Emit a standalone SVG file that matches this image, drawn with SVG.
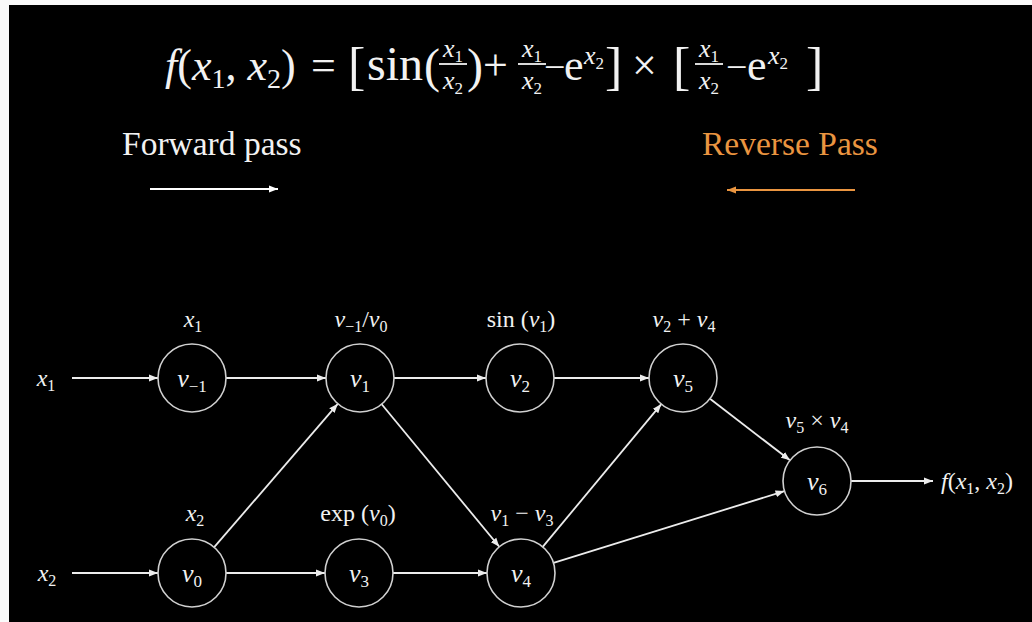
<svg xmlns="http://www.w3.org/2000/svg" width="1032" height="622" viewBox="0 0 1032 622">
<style>
.bg{fill:#000}
.t{font-family:"Liberation Serif",serif;fill:#f2f2f2}
.i{font-style:italic}
.node circle{fill:none;stroke:#d0d0d0;stroke-width:1.6}
.conn line{stroke:#ececec;stroke-width:1.8;marker-end:url(#ah)}
.lbl{font-family:"Liberation Serif",serif;fill:#f2f2f2;font-size:24px;text-anchor:middle}
.in{font-family:"Liberation Serif",serif;fill:#f2f2f2;font-size:26px;text-anchor:middle}
</style>
<defs>
<marker id="ah" markerUnits="userSpaceOnUse" markerWidth="10" markerHeight="8" refX="9" refY="4" orient="auto">
<path d="M0,0.5 L9,4 L0,7.5 Z" fill="#ececec"/>
</marker>
<marker id="ahw" markerUnits="userSpaceOnUse" markerWidth="10" markerHeight="8" refX="9" refY="4" orient="auto">
<path d="M0,0.5 L9,4 L0,7.5 Z" fill="#ffffff"/>
</marker>
<marker id="aho" markerUnits="userSpaceOnUse" markerWidth="10" markerHeight="8" refX="9" refY="4" orient="auto">
<path d="M0,0.5 L9,4 L0,7.5 Z" fill="#ea9540"/>
</marker>
</defs>
<rect width="1032" height="622" fill="#fafafa"/>
<rect class="bg" x="9" y="5" width="1023" height="617"/>

<g id="formula" class="t">
<text x="165" y="80" font-size="44"><tspan class="i">f</tspan>(<tspan class="i">x</tspan><tspan font-size="28" dy="8">1</tspan><tspan dy="-8">, </tspan><tspan class="i">x</tspan><tspan font-size="28" dy="8">2</tspan><tspan dy="-8">)</tspan></text>
<text x="311" y="80" font-size="44">=</text>
<text x="348" y="84" font-size="52">[</text>
<text x="367" y="80" font-size="48">sin</text>
<text x="424" y="82" font-size="48">(</text>
<text x="453" y="57" font-size="26" text-anchor="middle"><tspan class="i">x</tspan><tspan font-size="17" dy="5">1</tspan></text>
<line x1="439" y1="64" x2="467" y2="64" stroke="#f2f2f2" stroke-width="1.8"/>
<text x="453" y="89" font-size="26" text-anchor="middle"><tspan class="i">x</tspan><tspan font-size="17" dy="5">2</tspan></text>
<text x="467" y="82" font-size="48">)</text>
<text x="483" y="80" font-size="44">+</text>
<text x="532" y="57" font-size="26" text-anchor="middle"><tspan class="i">x</tspan><tspan font-size="17" dy="5">1</tspan></text>
<line x1="518" y1="64" x2="546" y2="64" stroke="#f2f2f2" stroke-width="1.8"/>
<text x="532" y="89" font-size="26" text-anchor="middle"><tspan class="i">x</tspan><tspan font-size="17" dy="5">2</tspan></text>
<text x="544" y="80" font-size="38">−</text>
<text x="564" y="80" font-size="44">e</text>
<text x="584" y="64" font-size="26"><tspan class="i">x</tspan><tspan font-size="17" dy="5">2</tspan></text>
<text x="605" y="84" font-size="52">]</text>
<text x="632" y="80" font-size="44">×</text>
<text x="673" y="84" font-size="52">[</text>
<text x="709" y="57" font-size="26" text-anchor="middle"><tspan class="i">x</tspan><tspan font-size="17" dy="5">1</tspan></text>
<line x1="695" y1="64" x2="723" y2="64" stroke="#f2f2f2" stroke-width="1.8"/>
<text x="709" y="89" font-size="26" text-anchor="middle"><tspan class="i">x</tspan><tspan font-size="17" dy="5">2</tspan></text>
<text x="726" y="80" font-size="38">−</text>
<text x="747" y="80" font-size="44">e</text>
<text x="768" y="64" font-size="26"><tspan class="i">x</tspan><tspan font-size="17" dy="5">2</tspan></text>
<text x="806" y="84" font-size="52">]</text>
</g>

<g id="legend-forward">
<text class="t" x="122" y="155" font-size="33.5">Forward pass</text>
<line x1="150" y1="189" x2="278" y2="189" stroke="#fff" stroke-width="2" marker-end="url(#ahw)"/>
</g>
<g id="legend-reverse">
<text x="702" y="155" font-size="33.5" font-family="Liberation Serif, serif" fill="#ea9540">Reverse Pass</text>
<line x1="855" y1="190" x2="727" y2="190" stroke="#ea9540" stroke-width="2" marker-end="url(#aho)"/>
</g>

<g id="connectors" class="conn">
<line x1="72" y1="378" x2="158" y2="378"/>
<line x1="226" y1="378" x2="326" y2="378"/>
<line x1="394" y1="378" x2="486" y2="378"/>
<line x1="554" y1="378" x2="649" y2="378"/>
<line x1="214.2" y1="547.2" x2="337.8" y2="403.8"/>
<line x1="381.7" y1="404.2" x2="499.3" y2="546.8"/>
<line x1="542.7" y1="546.9" x2="661.3" y2="404.1"/>
<line x1="710" y1="398.7" x2="790" y2="460.3"/>
<line x1="553.5" y1="562.9" x2="784.5" y2="491.1"/>
<line x1="851" y1="481" x2="933" y2="481"/>
<line x1="72" y1="573" x2="158" y2="573"/>
<line x1="226" y1="573" x2="325" y2="573"/>
<line x1="393" y1="573" x2="487" y2="573"/>
</g>

<g id="input-x1"><text class="lbl" x="46" y="386"><tspan class="i">x</tspan><tspan font-size="16" dy="5">1</tspan></text></g>
<g id="input-x2"><text class="lbl" x="47" y="581"><tspan class="i">x</tspan><tspan font-size="16" dy="5">2</tspan></text></g>
<g id="output-f"><text class="lbl" x="977" y="489"><tspan class="i">f</tspan>(<tspan class="i">x</tspan><tspan font-size="16" dy="5">1</tspan><tspan dy="-5">, </tspan><tspan class="i">x</tspan><tspan font-size="16" dy="5">2</tspan><tspan dy="-5">)</tspan></text></g>

<g id="node-vm1" class="node">
<circle cx="192" cy="378" r="34"/>
<text class="lbl" x="193" y="327"><tspan class="i">x</tspan><tspan font-size="16" dy="5">1</tspan></text>
<text class="in" x="192" y="387"><tspan class="i">v</tspan><tspan font-size="17" dy="5">−1</tspan></text>
</g>
<g id="node-v1" class="node">
<circle cx="360" cy="378" r="34"/>
<text class="lbl" x="361" y="327"><tspan class="i">v</tspan><tspan font-size="16" dy="5">−1</tspan><tspan dy="-5">/</tspan><tspan class="i">v</tspan><tspan font-size="16" dy="5">0</tspan></text>
<text class="in" x="360" y="387"><tspan class="i">v</tspan><tspan font-size="17" dy="5">1</tspan></text>
</g>
<g id="node-v2" class="node">
<circle cx="520" cy="378" r="34"/>
<text class="lbl" x="521" y="327">sin (<tspan class="i">v</tspan><tspan font-size="16" dy="5">1</tspan><tspan dy="-5">)</tspan></text>
<text class="in" x="520" y="387"><tspan class="i">v</tspan><tspan font-size="17" dy="5">2</tspan></text>
</g>
<g id="node-v5" class="node">
<circle cx="683" cy="378" r="34"/>
<text class="lbl" x="684" y="327"><tspan class="i">v</tspan><tspan font-size="16" dy="5">2</tspan><tspan dy="-5"> + </tspan><tspan class="i">v</tspan><tspan font-size="16" dy="5">4</tspan></text>
<text class="in" x="683" y="387"><tspan class="i">v</tspan><tspan font-size="17" dy="5">5</tspan></text>
</g>
<g id="node-v0" class="node">
<circle cx="192" cy="573" r="34"/>
<text class="lbl" x="195" y="521"><tspan class="i">x</tspan><tspan font-size="16" dy="5">2</tspan></text>
<text class="in" x="192" y="582"><tspan class="i">v</tspan><tspan font-size="17" dy="5">0</tspan></text>
</g>
<g id="node-v3" class="node">
<circle cx="359" cy="573" r="34"/>
<text class="lbl" x="358" y="521">exp (<tspan class="i">v</tspan><tspan font-size="16" dy="5">0</tspan><tspan dy="-5">)</tspan></text>
<text class="in" x="359" y="582"><tspan class="i">v</tspan><tspan font-size="17" dy="5">3</tspan></text>
</g>
<g id="node-v4" class="node">
<circle cx="521" cy="573" r="34"/>
<text class="lbl" x="522" y="521"><tspan class="i">v</tspan><tspan font-size="16" dy="5">1</tspan><tspan dy="-5"> − </tspan><tspan class="i">v</tspan><tspan font-size="16" dy="5">3</tspan></text>
<text class="in" x="521" y="582"><tspan class="i">v</tspan><tspan font-size="17" dy="5">4</tspan></text>
</g>
<g id="node-v6" class="node">
<circle cx="817" cy="481" r="34"/>
<text class="lbl" x="817" y="428"><tspan class="i">v</tspan><tspan font-size="16" dy="5">5</tspan><tspan dy="-5"> × </tspan><tspan class="i">v</tspan><tspan font-size="16" dy="5">4</tspan></text>
<text class="in" x="817" y="490"><tspan class="i">v</tspan><tspan font-size="17" dy="5">6</tspan></text>
</g>
</svg>
